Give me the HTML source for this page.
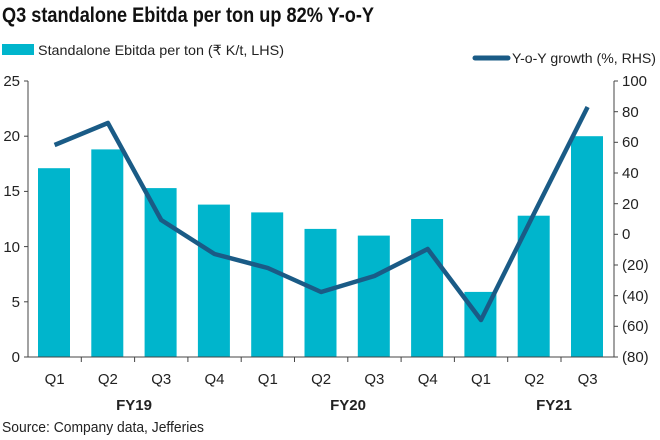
<!DOCTYPE html><html><head><style>body{margin:0;background:#fff}svg{display:block;font-family:"Liberation Sans Narrow","Liberation Sans",sans-serif}</style></head><body>
<svg width="660" height="440" viewBox="0 0 660 440">
<text x="2" y="22" font-size="21" font-weight="bold" fill="#111" textLength="372" lengthAdjust="spacingAndGlyphs">Q3 standalone Ebitda per ton up 82% Y-o-Y</text>
<rect x="2" y="44" width="32" height="11" fill="#00b5cc"/>
<text x="38" y="55" font-size="14" fill="#222" textLength="246" lengthAdjust="spacingAndGlyphs">Standalone Ebitda per ton (₹ K/t, LHS)</text>
<line x1="475" y1="58" x2="508" y2="58" stroke="#1a5b86" stroke-width="5" stroke-linecap="round"/>
<text x="512" y="63" font-size="14" fill="#222" textLength="144" lengthAdjust="spacingAndGlyphs">Y-o-Y growth (%, RHS)</text>
<g fill="#00b5cc">
<rect x="38" y="168.2" width="32" height="188.8"/>
<rect x="91.3" y="149.4" width="32" height="207.6"/>
<rect x="144.6" y="188.1" width="32" height="168.9"/>
<rect x="197.9" y="204.6" width="32" height="152.4"/>
<rect x="251.2" y="212.4" width="32" height="144.6"/>
<rect x="304.5" y="228.9" width="32" height="128.1"/>
<rect x="357.8" y="235.6" width="32" height="121.4"/>
<rect x="411.1" y="219" width="32" height="138"/>
<rect x="464.4" y="291.9" width="32" height="65.1"/>
<rect x="517.7" y="215.7" width="32" height="141.3"/>
<rect x="571" y="136.2" width="32" height="220.8"/>
</g>
<g stroke="#444" stroke-width="1" fill="none">
<line x1="28" y1="81" x2="28" y2="357"/><line x1="614" y1="81" x2="614" y2="357"/>
<line x1="24" y1="357" x2="618" y2="357"/>
<line x1="24" y1="81" x2="28" y2="81"/><line x1="24" y1="136.2" x2="28" y2="136.2"/><line x1="24" y1="191.4" x2="28" y2="191.4"/><line x1="24" y1="246.6" x2="28" y2="246.6"/><line x1="24" y1="301.8" x2="28" y2="301.8"/>
<line x1="614" y1="81" x2="618" y2="81"/><line x1="614" y1="111.7" x2="618" y2="111.7"/><line x1="614" y1="142.3" x2="618" y2="142.3"/><line x1="614" y1="173" x2="618" y2="173"/><line x1="614" y1="203.7" x2="618" y2="203.7"/><line x1="614" y1="234.3" x2="618" y2="234.3"/><line x1="614" y1="265" x2="618" y2="265"/><line x1="614" y1="295.7" x2="618" y2="295.7"/><line x1="614" y1="326.3" x2="618" y2="326.3"/>
<line x1="81.3" y1="357" x2="81.3" y2="362"/><line x1="134.6" y1="357" x2="134.6" y2="362"/><line x1="187.9" y1="357" x2="187.9" y2="362"/><line x1="241.2" y1="357" x2="241.2" y2="362"/><line x1="294.5" y1="357" x2="294.5" y2="362"/><line x1="347.8" y1="357" x2="347.8" y2="362"/><line x1="401.1" y1="357" x2="401.1" y2="362"/><line x1="454.4" y1="357" x2="454.4" y2="362"/><line x1="507.7" y1="357" x2="507.7" y2="362"/><line x1="561" y1="357" x2="561" y2="362"/>
</g>
<polyline fill="none" stroke="#1a5b86" stroke-width="4.5" stroke-linejoin="round" points="54.6,145 107.9,123 161.2,220 214.5,254 267.8,268 321.1,292 374.4,276 427.7,249 481,320 534.3,213 587.6,107"/>
<g font-size="15" fill="#222">
<g text-anchor="end"><text x="20" y="86">25</text><text x="20" y="141">20</text><text x="20" y="196">15</text><text x="20" y="252">10</text><text x="20" y="307">5</text><text x="20" y="362">0</text></g>
<g text-anchor="start"><text x="622" y="86">100</text><text x="622" y="117">80</text><text x="622" y="147">60</text><text x="622" y="178">40</text><text x="622" y="209">20</text><text x="622" y="239">0</text><text x="622" y="270">(20)</text><text x="622" y="301">(40)</text><text x="622" y="331">(60)</text><text x="622" y="362">(80)</text></g>
<g text-anchor="middle"><text x="54.6" y="384">Q1</text><text x="107.9" y="384">Q2</text><text x="161.2" y="384">Q3</text><text x="214.5" y="384">Q4</text><text x="267.8" y="384">Q1</text><text x="321.1" y="384">Q2</text><text x="374.4" y="384">Q3</text><text x="427.7" y="384">Q4</text><text x="481" y="384">Q1</text><text x="534.3" y="384">Q2</text><text x="587.6" y="384">Q3</text>
<text x="134" y="410" font-weight="bold">FY19</text><text x="348" y="410" font-weight="bold">FY20</text><text x="554" y="410" font-weight="bold">FY21</text></g>
<text x="2" y="432" textLength="202" lengthAdjust="spacingAndGlyphs">Source: Company data, Jefferies</text>
</g>
</svg></body></html>
